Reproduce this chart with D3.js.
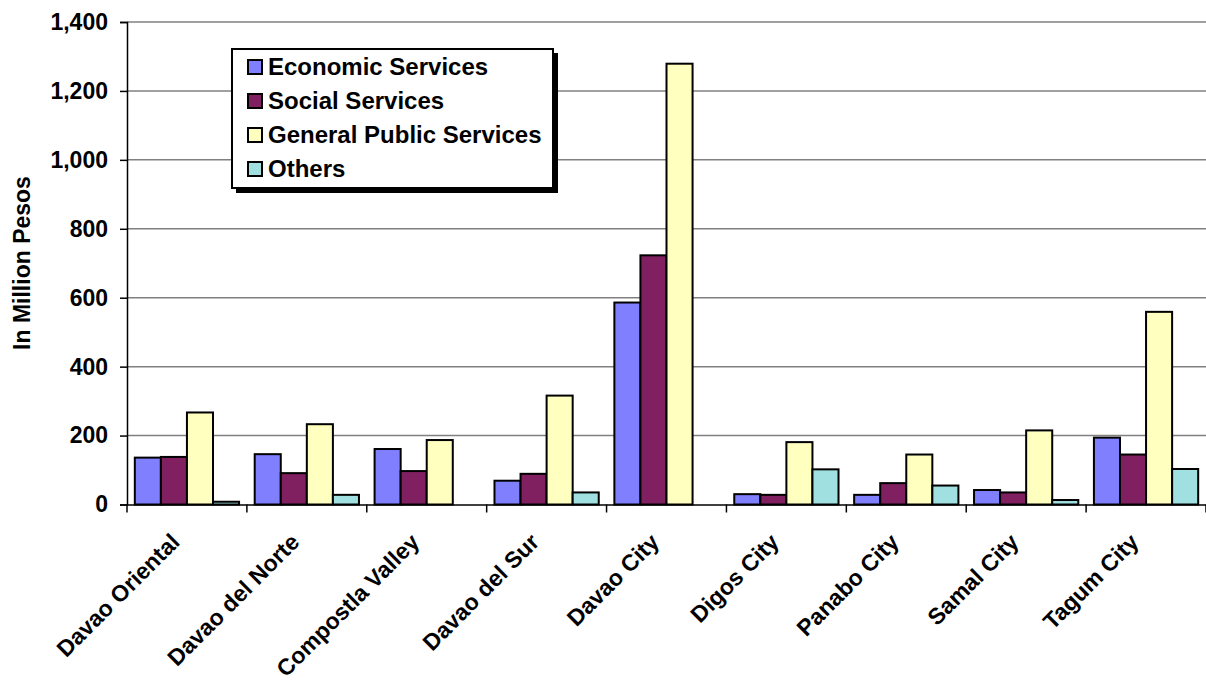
<!DOCTYPE html>
<html><head><meta charset="utf-8">
<script src="https://cdn.jsdelivr.net/npm/d3@7"></script>
<style>body{margin:0;background:#fff}svg{display:block}text{font-family:"Liberation Sans",Arial,sans-serif;font-weight:bold}</style>
</head><body>
<svg id="c" width="1206" height="686"></svg>
<script>
const categories = ["Davao Oriental","Davao del Norte","Compostla Valley","Davao del Sur","Davao City","Digos City","Panabo City","Samal City","Tagum City"];
const seriesNames = ["Economic Services","Social Services","General Public Services","Others"];
const economic = [136,146,161,69,586,30,28,42,194];
const social = [138,91,97,89,723,28,62,35,145];
const generalPublic = [267,233,187,316,1279,181,145,215,559];
const others = [8,28,0,35,0,102,55,13,103];
const yTicks = [0,200,400,600,800,1000,1200,1400];
const colors = ["#8080FF","#802060","#FFFFC0","#A0E0E0"];
const seriesValues = [economic, social, generalPublic, others];

const svg = d3.select("#c");
const L=127, R=1206, T=22, B=504.5;
const x = d3.scaleBand().domain(categories).range([L,R]).paddingInner(0).paddingOuter(0);
const y = d3.scaleLinear().domain([0,1400]).range([B,T]);
const bw = x.bandwidth()/4.6;
const x1 = d3.scaleBand().domain(seriesNames).range([bw*0.3, bw*4.3]).padding(0);

// gridlines
svg.append("g").selectAll("line").data(yTicks.filter(d=>d>0)).join("line")
  .attr("x1",L).attr("x2",R).attr("y1",d=>y(d)).attr("y2",d=>y(d))
  .attr("stroke","#808080").attr("stroke-width",1.5);

// bars
const g = svg.append("g");
categories.forEach((c,i)=>{
  seriesNames.forEach((s,j)=>{
    const v = seriesValues[j][i];
    if(v<=0) return;
    g.append("rect").attr("x",x(c)+x1(s)).attr("y",y(v)).attr("width",x1.bandwidth()).attr("height",B-y(v))
      .attr("fill",colors[j]).attr("stroke","#000").attr("stroke-width",2);
  });
});

// y axis
const ya = svg.append("g").attr("transform",`translate(${L},0)`).call(d3.axisLeft(y).tickValues(yTicks).tickSize(7).tickFormat(d3.format(",")));
ya.select(".domain").attr("stroke","#000").attr("stroke-width",1.5);
ya.selectAll(".tick line").attr("stroke","#000").attr("stroke-width",1.5);
ya.selectAll(".tick text").attr("font-size",23).attr("x",-19).attr("fill","#000");

// x axis
const xa = svg.append("g").attr("transform",`translate(0,${B})`).call(d3.axisBottom(x).tickSize(0).tickFormat(""));
xa.select(".domain").attr("stroke","#000").attr("stroke-width",1.5);
xa.selectAll(".tick").remove();
const bounds = categories.map(c=>x(c)).concat([R]);
svg.append("g").selectAll("line").data(bounds).join("line")
  .attr("x1",d=>d).attr("x2",d=>d).attr("y1",B).attr("y2",B+8).attr("stroke","#000").attr("stroke-width",1.5);

svg.append("g").selectAll("text").data(categories).join("text")
  .attr("transform",d=>`translate(${x(d)+x.bandwidth()/2-6},${B+39}) rotate(-45)`)
  .attr("text-anchor","end").attr("font-size",23).attr("fill","#000").text(d=>d);

// y title
svg.append("text").attr("transform","translate(30,263) rotate(-90)").attr("text-anchor","middle")
  .attr("font-size",23).text("In Million Pesos");

// legend
const lg = svg.append("g");
lg.append("rect").attr("x",236).attr("y",53).attr("width",322).attr("height",140).attr("fill","#000");
lg.append("rect").attr("x",232).attr("y",49).attr("width",321).attr("height",139).attr("fill","#fff").attr("stroke","#000").attr("stroke-width",2);
seriesNames.forEach((s,j)=>{
  const cy = 67 + j*34;
  lg.append("rect").attr("x",248).attr("y",cy-7).attr("width",14).attr("height",14).attr("fill",colors[j]).attr("stroke","#000").attr("stroke-width",2);
  lg.append("text").attr("x",268).attr("y",cy+8).attr("font-size",24).text(s);
});
</script>
</body></html>
